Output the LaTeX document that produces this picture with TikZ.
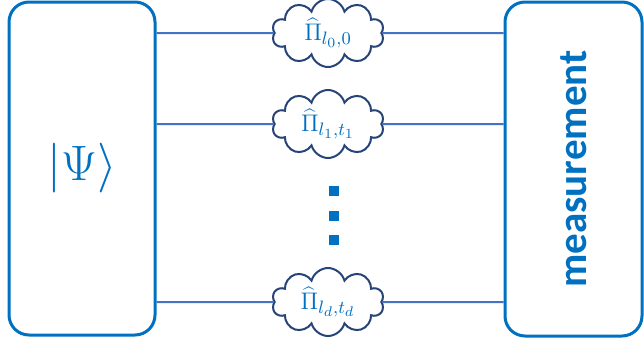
\documentclass[tikz,border=0pt]{standalone}
\usepackage{fontspec}
\setsansfont{Carlito}
\usetikzlibrary{positioning, shapes.symbols}
\definecolor{boxblue}{RGB}{0,112,192}
\definecolor{wireblue}{RGB}{68,114,196}
\definecolor{cloudblue}{RGB}{38,68,120}
\DeclareMathSizes{11.5}{11.5}{9.5}{7.5}

\begin{document}
\begin{tikzpicture}[x=0.5pt, y=-0.5pt,
				stage/.style={draw=boxblue, line width=1.5pt, rounded corners=10pt, text=boxblue},
				proj/.style={cloud, cloud puffs=10, aspect=1.8, draw=cloudblue, line width=1pt, fill=white,
					text=boxblue, minimum width=56pt, minimum height=34pt, inner sep=0pt,
					font=\fontsize{11.5}{13}\selectfont},
				wire/.style={draw=wireblue, line width=1pt},
				dot/.style={fill=boxblue, minimum size=5pt, inner sep=0pt}]
				\useasboundingbox (0,0) rectangle (644,343);
				\node[stage, minimum width=73pt, minimum height=166.5pt, font=\fontsize{26}{30}\selectfont]
				(state) at (82,168.5) {$|\Psi\rangle$};
				\node[stage, minimum width=68.5pt, minimum height=167pt]
				(meas) at (573.5,169) {\rotatebox{90}{\sffamily\bfseries\fontsize{20.5}{24}\selectfont measurement}};
				\node[proj] (p0) at (328,33) {$\widehat{\Pi}_{l_0,0}$};
				\node[proj] (p1) at (328,124) {$\widehat{\Pi}_{l_1,t_1}$};
				\node[proj] (pd) at (328,302) {$\widehat{\Pi}_{l_d,t_d}$};
				\foreach \p in {p0,p1,pd}
				\draw[wire] (state.east |- \p) -- (\p) -- (meas.west |- \p);
				\foreach \y [count=\i] in {191,215.5,240}
				\node[dot] (dot\i) at (334,\y) {};
			\end{tikzpicture}
\end{document}
